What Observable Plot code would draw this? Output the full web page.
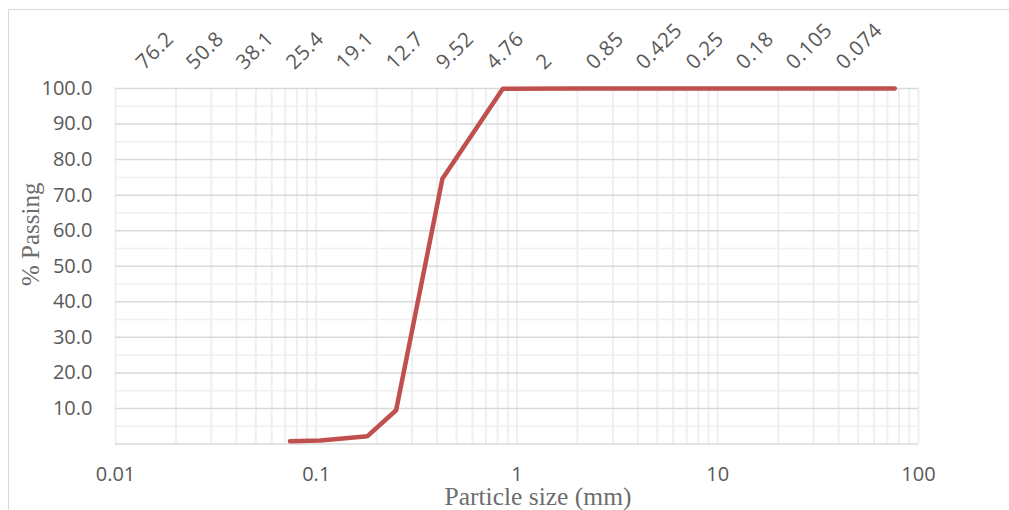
<!DOCTYPE html>
<html>
<head>
<meta charset="utf-8">
<script src="https://cdn.jsdelivr.net/npm/d3@7"></script>
<script src="https://cdn.jsdelivr.net/npm/@observablehq/plot@0.6"></script>
<style>
  html, body { margin: 0; padding: 0; background: #fff; }
  #wrap { position: relative; width: 1009px; height: 510px; overflow: hidden; }
  #frame { position: absolute; left: 8px; top: 9px; width: 1200px; height: 700px; border: 1px solid #d9d9d9; box-sizing: border-box; }
  #wrap svg { position: absolute; left: 0; top: 0; overflow: visible; }
</style>
</head>
<body>
<div id="wrap"><div id="frame"></div></div>
<script>
// Sieve sizes (mm) and percent passing
const sieveSizes = [76.2, 50.8, 38.1, 25.4, 19.1, 12.7, 9.52, 4.76, 2, 0.85, 0.425, 0.25, 0.18, 0.105, 0.074];
const percentPassing = [100, 100, 100, 100, 100, 100, 100, 100, 100, 99.9, 74.6, 9.5, 2.2, 1.0, 0.8];
const sieveLabels = ["76.2", "50.8", "38.1", "25.4", "19.1", "12.7", "9.52", "4.76", "2", "0.85", "0.425", "0.25", "0.18", "0.105", "0.074"];
const xTicks = [0.01, 0.1, 1, 10, 100];
const yTicks = [10, 20, 30, 40, 50, 60, 70, 80, 90, 100];
const yMajorGrid = [0, 10, 20, 30, 40, 50, 60, 70, 80, 90, 100];
const yMinorGrid = [5, 15, 25, 35, 45, 55, 65, 75, 85, 95];

const data = sieveSizes.map((s, i) => ({size: s, pass: percentPassing[i]}));
const xMinorGrid = d3.scaleLog().domain([0.01, 100]).ticks();

const sans = "'Open Sans', sans-serif";
const serif = "'Liberation Serif', serif";

const mainChart = Plot.plot({
  width: 1009,
  height: 510,
  marginLeft: 115,
  marginRight: 91,
  marginTop: 88,
  marginBottom: 66.5,
  style: {fontFamily: sans, background: "transparent"},
  x: {type: "log", domain: [0.01, 100]},
  y: {domain: [0, 100]},
  marks: [
    Plot.ruleX(xMinorGrid, {stroke: "#efefef", strokeWidth: 2}),
    Plot.ruleY(yMinorGrid, {stroke: "#f0f0f0", strokeWidth: 1.5}),
    Plot.ruleY(yMajorGrid, {stroke: "#d9d9d9", strokeWidth: 1.5}),
    Plot.line(data, {x: "size", y: "pass", stroke: "#c0504d", strokeWidth: 4.5, strokeLinecap: "round", strokeLinejoin: "round"}),
    Plot.axisX({ticks: xTicks, tickFormat: d => String(d), tickSize: 0, tickPadding: 23, fontSize: 20, color: "#595959", label: null, style: {letterSpacing: "0.6px"}}),
    Plot.axisY({ticks: yTicks, tickFormat: d3.format(".1f"), tickSize: 0, tickPadding: 23, fontSize: 20, color: "#595959", label: null, style: {letterSpacing: "0.8px"}}),
    Plot.text(["Particle size (mm)"], {frameAnchor: "bottom", dx: 21, dy: 61, lineAnchor: "bottom", fontFamily: serif, fontSize: 25.5, fill: "#6d6d6d"}),
    Plot.text(["% Passing"], {frameAnchor: "left", dx: -85, dy: -32, rotate: -90, textAnchor: "middle", lineAnchor: "middle", fontFamily: serif, fontSize: 25, fill: "#6d6d6d"})
  ]
});
document.getElementById("wrap").appendChild(mainChart);

const sieveAxis = Plot.plot({
  width: 1009,
  height: 80,
  marginTop: 0,
  marginBottom: 10,
  marginLeft: 0,
  marginRight: 0,
  style: {fontFamily: sans, background: "transparent", letterSpacing: "0.6px"},
  x: {type: "point", domain: sieveLabels, range: [144, 844], padding: 0, axis: null},
  marks: [
    Plot.text(sieveLabels, {x: d => d, frameAnchor: "bottom", textAnchor: "start", lineAnchor: "bottom", rotate: -45, fontSize: 20.5, fill: "#595959"})
  ]
});
document.getElementById("wrap").appendChild(sieveAxis);
</script>
</body>
</html>
